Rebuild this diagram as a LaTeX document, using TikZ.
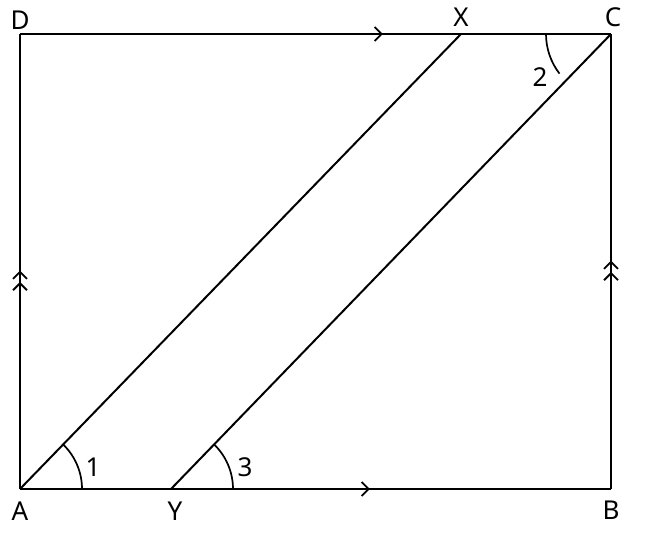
\documentclass[tikz,border=0pt]{standalone}
\usepackage{fontspec}
\setmainfont{Noto Sans}
\usetikzlibrary{angles,arrows.meta,decorations.markings}

\begin{document}
\begin{tikzpicture}[x=1pt, y=1pt, line width=2pt,
 lbl/.style = {font=\fontsize{26}{30}\selectfont, inner sep=0pt},
 ang/.style = {draw, line width=1.7pt, angle radius=#1},
 one/.style = {postaction={decorate}, decoration={markings,
   mark=at position #1 with {\arrow{Straight Barb[length=7pt, width=14pt, line width=1.8pt]}}}},
 two/.style = {postaction={decorate}, decoration={markings,
   mark=at position #1 with {\arrow{Straight Barb[length=7pt, width=14pt, line width=1.8pt]}},
   mark=at position #1+0.025 with {\arrow{Straight Barb[length=7pt, width=14pt, line width=1.8pt]}}}}]
\useasboundingbox (0,0) rectangle (655,538);

\coordinate (A) at (20,49);
\coordinate (B) at (611,49);
\coordinate (C) at (611,504);
\coordinate (D) at (20,504);
\coordinate (X) at (461,504);
\coordinate (Y) at (171,49);

\draw[one=0.592] (A) -- (B);
\draw[two=0.477] (B) -- (C);
\draw[one=0.614] (D) -- (C);
\draw[two=0.455] (A) -- (D);
\draw (A) -- (X);
\draw (Y) -- (C);

\pic[ang=62pt] {angle = B--A--X};
\pic[ang=62pt] {angle = B--Y--C};
\pic[ang=65pt] {angle = X--C--A};

\node[lbl] (a) at (20,27) {A};
\node[lbl] (y) at (175,27) {Y};
\node[lbl] (b) at (611,28) {B};
\node[lbl] (d) at (20,518) {D};
\node[lbl] (x) at (461,521) {X};
\node[lbl] (c) at (613,521) {C};
\node[lbl] (n1) at (93,71) {1};
\node[lbl] (n3) at (245,71) {3};
\node[lbl] (n2) at (540,461) {2};

\end{tikzpicture}
\end{document}
